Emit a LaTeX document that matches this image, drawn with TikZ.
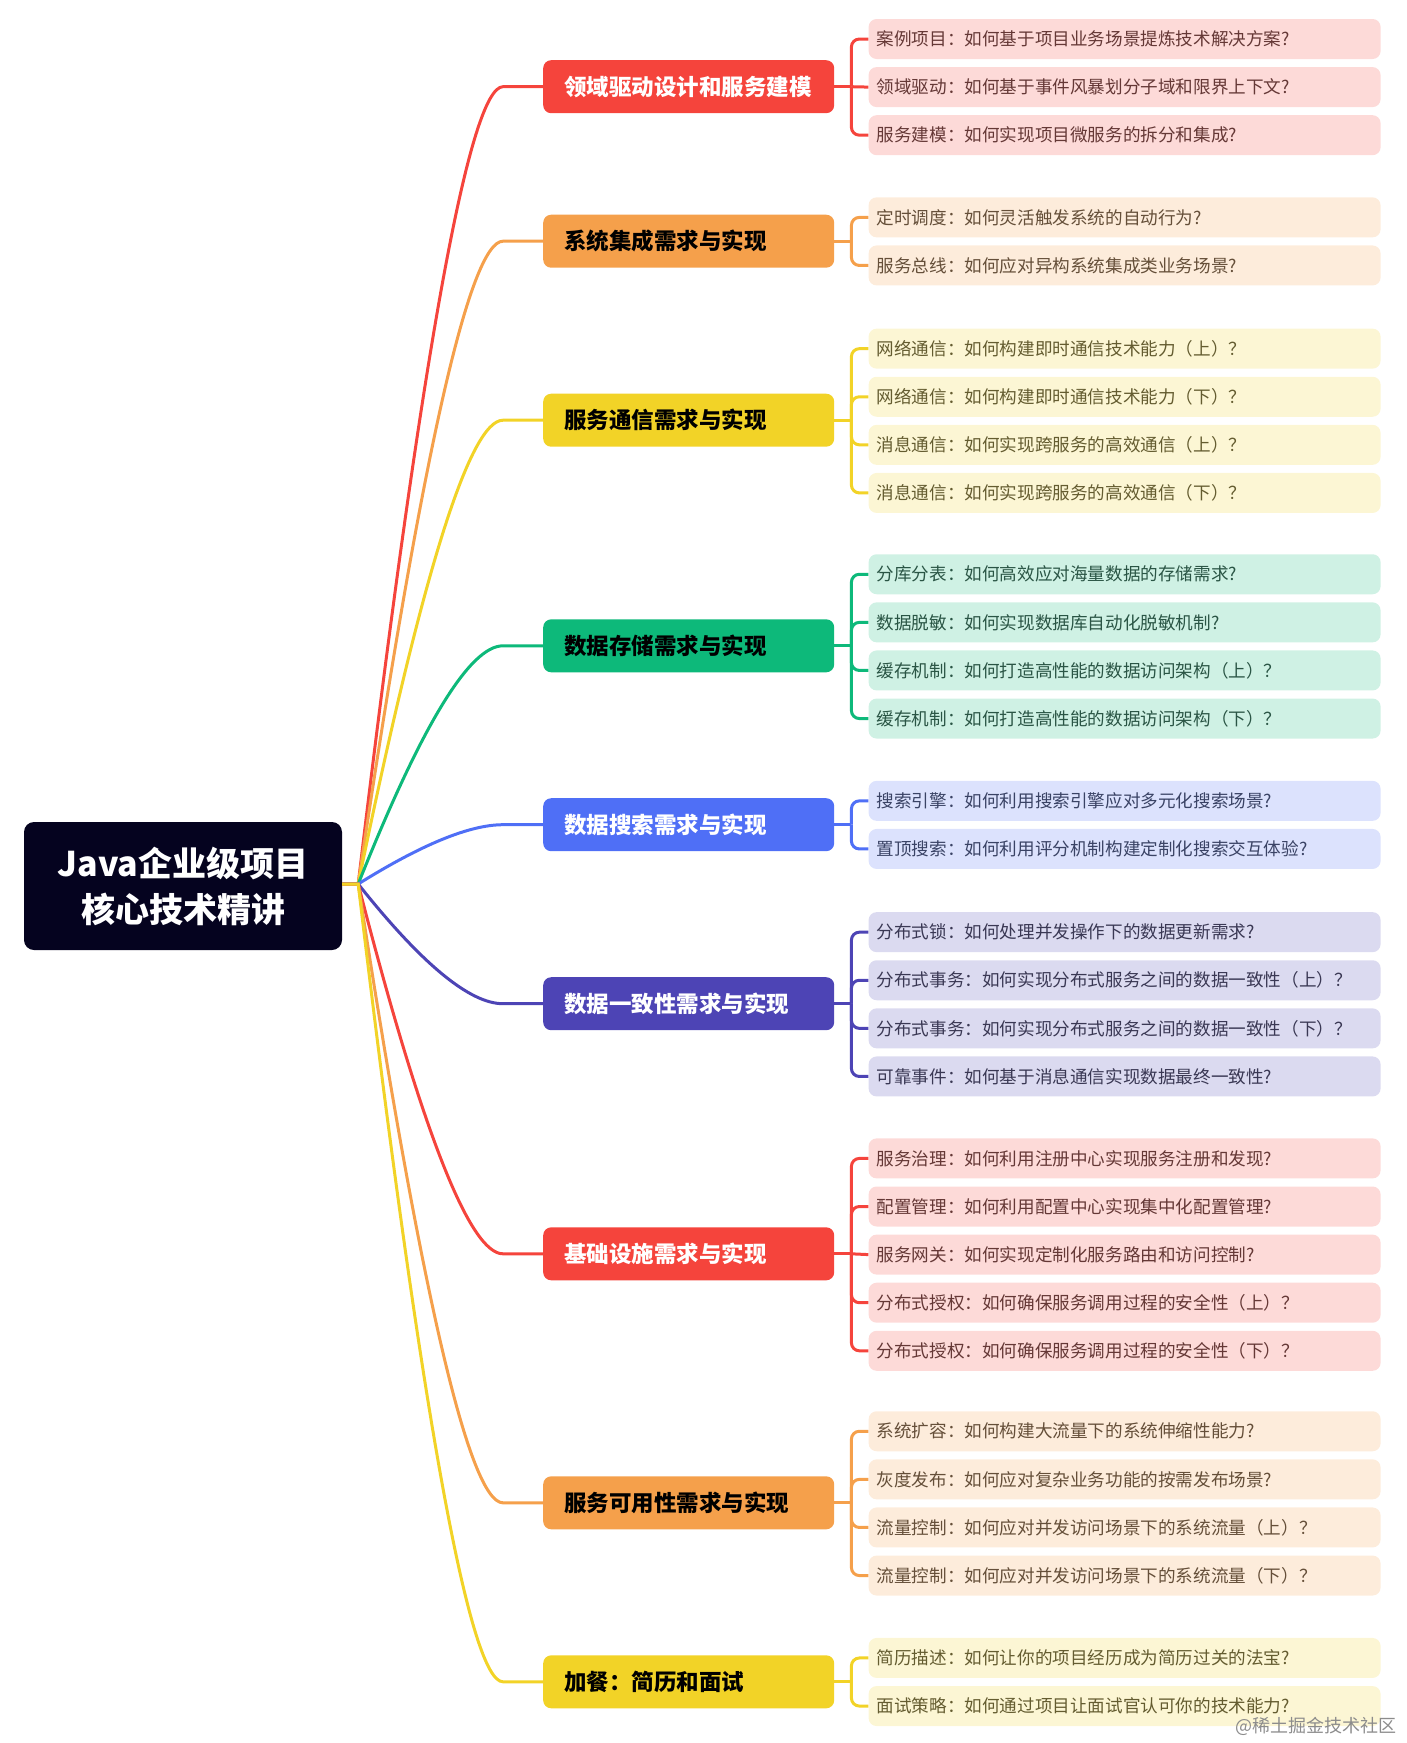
\documentclass[tikz,border=0pt]{standalone}
\usepackage{fontspec}
\setmainfont{Noto Sans CJK SC}
\usetikzlibrary{positioning,calc}
\definecolor{mmred}{HTML}{F5443C}
\definecolor{mmorange}{HTML}{F5A04B}
\definecolor{mmyellow}{HTML}{F2D327}
\definecolor{mmgreen}{HTML}{0DB97A}
\definecolor{mmblue}{HTML}{4F6FF6}
\definecolor{mmindigo}{HTML}{4D44B5}
\definecolor{mmnavy}{HTML}{05031F}
\begin{document}
\begin{tikzpicture}[
  x=1pt,y=-1pt,
  node distance=7.7pt,
  rootbox/.style={rounded corners=10pt,fill=mmnavy,text=white,minimum width=318pt,minimum height=128pt,align=center,font=\fontsize{34}{46}\selectfont\bfseries},
  branch/.style={rounded corners=8pt,minimum height=53pt,text width=249pt,inner xsep=21pt,align=left,fill=#1,anchor=west,font=\fontsize{22.5}{26}\selectfont\bfseries},
  leaf/.style={rounded corners=8pt,minimum height=40pt,text width=496pt,inner xsep=8pt,inner ysep=0pt,align=left,fill=#1!20,text=#1!30!black!85,font=\fontsize{17.6}{22}\selectfont},
  link/.style={draw=#1,line width=3pt},
  bracket/.style={link=#1,rounded corners=8pt}
]
\useasboundingbox (0,0) rectangle (1406,1743);
\node[rootbox] (root) at (183,886) {Java企业级项目\\核心技术精讲};
\coordinate (hub) at ($(root.east)+(16pt,-2)$);

\node[branch=mmred,text=white] (dom) at (543,86.7) {领域驱动设计和服务建模};
\node[branch=mmorange] (integ) at (543,241.2) {系统集成需求与实现};
\node[branch=mmyellow] (comm) at (543,420.2) {服务通信需求与实现};
\node[branch=mmgreen] (store) at (543,645.8) {数据存储需求与实现};
\node[branch=mmblue,text=white] (search) at (543,824.7) {数据搜索需求与实现};
\node[branch=mmindigo,text=white] (consist) at (543,1003.7) {数据一致性需求与实现};
\node[branch=mmred,text=white] (infra) at (543,1253.8) {基础设施需求与实现};
\node[branch=mmorange] (avail) at (543,1502.8) {服务可用性需求与实现};
\node[branch=mmyellow] (bonus) at (543,1681.8) {加餐：简历和面试};

\node[leaf=mmred,anchor=west] (dom1) at ($(dom.east)+(34,-47.7)$) {案例项目：如何基于项目业务场景提炼技术解决方案?};
\node[leaf=mmred,below=of dom1] (dom2) {领域驱动：如何基于事件风暴划分子域和限界上下文?};
\node[leaf=mmred,below=of dom2] (dom3) {服务建模：如何实现项目微服务的拆分和集成?};

\node[leaf=mmorange,anchor=west] (integ1) at ($(integ.east)+(34,-23.85)$) {定时调度：如何灵活触发系统的自动行为?};
\node[leaf=mmorange,below=of integ1] (integ2) {服务总线：如何应对异构系统集成类业务场景?};

\node[leaf=mmyellow,anchor=west] (comm1) at ($(comm.east)+(34,-71.55)$) {网络通信：如何构建即时通信技术能力（上）？};
\node[leaf=mmyellow,below=of comm1] (comm2) {网络通信：如何构建即时通信技术能力（下）？};
\node[leaf=mmyellow,below=of comm2] (comm3) {消息通信：如何实现跨服务的高效通信（上）？};
\node[leaf=mmyellow,below=of comm3] (comm4) {消息通信：如何实现跨服务的高效通信（下）？};

\node[leaf=mmgreen,anchor=west] (store1) at ($(store.east)+(34,-71.55)$) {分库分表：如何高效应对海量数据的存储需求?};
\node[leaf=mmgreen,below=of store1] (store2) {数据脱敏：如何实现数据库自动化脱敏机制?};
\node[leaf=mmgreen,below=of store2] (store3) {缓存机制：如何打造高性能的数据访问架构（上）？};
\node[leaf=mmgreen,below=of store3] (store4) {缓存机制：如何打造高性能的数据访问架构（下）？};

\node[leaf=mmblue,anchor=west] (search1) at ($(search.east)+(34,-23.85)$) {搜索引擎：如何利用搜索引擎应对多元化搜索场景?};
\node[leaf=mmblue,below=of search1] (search2) {置顶搜索：如何利用评分机制构建定制化搜索交互体验?};

\node[leaf=mmindigo,anchor=west] (consist1) at ($(consist.east)+(34,-71.55)$) {分布式锁：如何处理并发操作下的数据更新需求?};
\node[leaf=mmindigo,below=of consist1] (consist2) {分布式事务：如何实现分布式服务之间的数据一致性（上）？};
\node[leaf=mmindigo,below=of consist2] (consist3) {分布式事务：如何实现分布式服务之间的数据一致性（下）？};
\node[leaf=mmindigo,below=of consist3] (consist4) {可靠事件：如何基于消息通信实现数据最终一致性?};

\node[leaf=mmred,anchor=west] (infra1) at ($(infra.east)+(34,-95.4)$) {服务治理：如何利用注册中心实现服务注册和发现?};
\node[leaf=mmred,below=of infra1] (infra2) {配置管理：如何利用配置中心实现集中化配置管理?};
\node[leaf=mmred,below=of infra2] (infra3) {服务网关：如何实现定制化服务路由和访问控制?};
\node[leaf=mmred,below=of infra3] (infra4) {分布式授权：如何确保服务调用过程的安全性（上）？};
\node[leaf=mmred,below=of infra4] (infra5) {分布式授权：如何确保服务调用过程的安全性（下）？};

\node[leaf=mmorange,anchor=west] (avail1) at ($(avail.east)+(34,-71.55)$) {系统扩容：如何构建大流量下的系统伸缩性能力?};
\node[leaf=mmorange,below=of avail1] (avail2) {灰度发布：如何应对复杂业务功能的按需发布场景?};
\node[leaf=mmorange,below=of avail2] (avail3) {流量控制：如何应对并发访问场景下的系统流量（上）？};
\node[leaf=mmorange,below=of avail3] (avail4) {流量控制：如何应对并发访问场景下的系统流量（下）？};

\node[leaf=mmyellow,anchor=west] (bonus1) at ($(bonus.east)+(34,-23.85)$) {简历描述：如何让你的项目经历成为简历过关的法宝?};
\node[leaf=mmyellow,below=of bonus1] (bonus2) {面试策略：如何通过项目让面试官认可你的技术能力?};

\node[anchor=east,text=black!45,font=\fontsize{18}{22}\selectfont] (mark) at (1400,1726) {@稀土掘金技术社区};

\foreach \b/\c in {dom/mmred,integ/mmorange,comm/mmyellow,store/mmgreen,search/mmblue,consist/mmindigo,infra/mmred,avail/mmorange,bonus/mmyellow}{
  \coordinate (ctl) at ($(\b.west -| hub)+(95pt,0)$);
  \coordinate (tip) at ($(\b.west)+(-40pt,0)$);
  \draw[link=\c] (root.east |- hub) -- (hub) .. controls ($(hub)!.667!(ctl)$) and ($(tip)!.667!(ctl)$) .. (tip) -- (\b.west);
  \draw[link=\c] (\b.east) -- ++(17pt,0) coordinate (\b-x);
}

\foreach \l in {dom1,dom3} \draw[bracket=mmred] (dom-x) |- (\l.west);
\draw[link=mmred] (dom-x) -- (dom2.west);
\foreach \l in {integ1,integ2} \draw[bracket=mmorange] (integ-x) |- (\l.west);
\foreach \l in {comm1,comm2,comm3,comm4} \draw[bracket=mmyellow] (comm-x) |- (\l.west);
\foreach \l in {store1,store2,store3,store4} \draw[bracket=mmgreen] (store-x) |- (\l.west);
\foreach \l in {search1,search2} \draw[bracket=mmblue] (search-x) |- (\l.west);
\foreach \l in {consist1,consist2,consist3,consist4} \draw[bracket=mmindigo] (consist-x) |- (\l.west);
\foreach \l in {infra1,infra2,infra4,infra5} \draw[bracket=mmred] (infra-x) |- (\l.west);
\draw[link=mmred] (infra-x) -- (infra3.west);
\foreach \l in {avail1,avail2,avail3,avail4} \draw[bracket=mmorange] (avail-x) |- (\l.west);
\foreach \l in {bonus1,bonus2} \draw[bracket=mmyellow] (bonus-x) |- (\l.west);
\end{tikzpicture}
\end{document}
